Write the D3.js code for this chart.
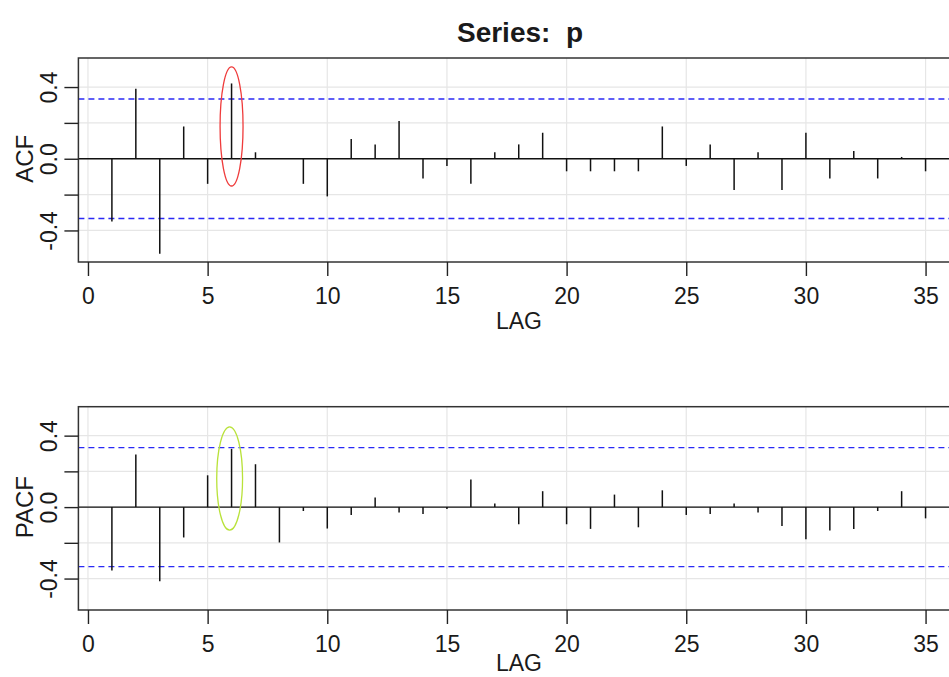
<!DOCTYPE html>
<html>
<head>
<meta charset="utf-8">
<script src="https://cdn.jsdelivr.net/npm/d3@7"></script>
<style>
  html, body { margin: 0; padding: 0; background: #fff; }
  svg { display: block; }
  text { font-family: "Liberation Sans", Arial, sans-serif; fill: #1a1a1a; }
</style>
</head>
<body>
<svg id="chart" width="949" height="677"></svg>
<script>
// ---- data ----
const lags = [1,2,3,4,5,6,7,8,9,10,11,12,13,14,15,16,17,18,19,20,21,22,23,24,25,26,27,28,29,30,31,32,33,34,35];
const acfValues = [-0.35, 0.39, -0.53, 0.18, -0.14, 0.42, 0.036, 0.0, -0.14, -0.21,
                   0.11, 0.08, 0.21, -0.11, -0.04, -0.14, 0.036, 0.08, 0.145, -0.07,
                   -0.07, -0.07, -0.07, 0.18, -0.04, 0.08, -0.175, 0.036, -0.175, 0.145,
                   -0.11, 0.043, -0.11, 0.01, -0.07];
const pacfValues = [-0.355, 0.295, -0.415, -0.17, 0.178, 0.326, 0.24, -0.198, -0.022, -0.12,
                    -0.044, 0.054, -0.03, -0.039, -0.011, 0.154, 0.02, -0.096, 0.089, -0.096,
                    -0.122, 0.07, -0.113, 0.094, -0.044, -0.039, 0.02, -0.03, -0.106, -0.18,
                    -0.131, -0.122, -0.022, 0.089, -0.063];
const confBound = 0.333;
const xTicks = [0, 5, 10, 15, 20, 25, 30, 35];
const yTicks = [-0.4, -0.2, 0.0, 0.2, 0.4];
const yTickLabels = ["-0.4", "", "0.0", "", "0.4"];
const titleText = "Series:  p";
const xLabel = "LAG";
const panelLabels = ["ACF", "PACF"];
// annotation ellipses: [lag center, value center, lag half-width, value half-height]
const ellipseTop = [6.0, 0.18, 0.48, 0.332];
const ellipseBottom = [5.92, 0.16, 0.54, 0.289];

// ---- layout ----
const svg = d3.select("#chart");
const x = d3.scaleLinear().domain([-0.4, 37.4]).range([78.4, 983]);
const panels = [
  { values: acfValues, label: panelLabels[0], top: 58, bottom: 262, labOff: 67, ellipse: ellipseTop, ecolor: "#ef3b3b" },
  { values: pacfValues, label: panelLabels[1], top: 406.7, bottom: 610, labOff: 61, ellipse: ellipseBottom, ecolor: "#b9e23a" }
];

svg.append("text")
  .attr("x", 520).attr("y", 42)
  .attr("text-anchor", "middle")
  .attr("font-size", 28).attr("font-weight", "bold")
  .style("white-space", "pre")
  .text(titleText);

panels.forEach(p => {
  const y = d3.scaleLinear().domain([-0.576, 0.562]).range([p.bottom, p.top]);
  const g = svg.append("g");
  const x0 = x.range()[0], x1 = x.range()[1];

  // grid
  g.selectAll(".hg").data(yTicks).join("line")
    .attr("x1", x0).attr("x2", x1)
    .attr("y1", d => y(d)).attr("y2", d => y(d))
    .attr("stroke", "#e6e6e6").attr("stroke-width", 1.2);
  g.selectAll(".vg").data(xTicks).join("line")
    .attr("x1", d => x(d)).attr("x2", d => x(d))
    .attr("y1", p.top).attr("y2", p.bottom)
    .attr("stroke", "#e6e6e6").attr("stroke-width", 1.2);

  // confidence bounds
  g.selectAll(".cb").data([confBound, -confBound]).join("line")
    .attr("x1", x0).attr("x2", x1)
    .attr("y1", d => y(d)).attr("y2", d => y(d))
    .attr("stroke", "#2a2af5").attr("stroke-width", 1.4)
    .attr("stroke-dasharray", "6,4");

  // zero line
  g.append("line")
    .attr("x1", x0).attr("x2", x1)
    .attr("y1", y(0)).attr("y2", y(0))
    .attr("stroke", "#111").attr("stroke-width", 1.3);

  // spikes
  g.selectAll(".sp").data(lags.map((l, i) => [l, p.values[i]])).join("line")
    .attr("x1", d => x(d[0])).attr("x2", d => x(d[0]))
    .attr("y1", y(0)).attr("y2", d => y(d[1]))
    .attr("stroke", "#111").attr("stroke-width", 1.5);

  // box
  g.append("rect")
    .attr("x", x0).attr("y", p.top)
    .attr("width", x1 - x0).attr("height", p.bottom - p.top)
    .attr("fill", "none").attr("stroke", "#333").attr("stroke-width", 1.5);

  // x axis
  const xa = g.append("g").attr("transform", `translate(0,${p.bottom})`)
    .call(d3.axisBottom(x).tickValues(xTicks).tickSize(14).tickPadding(0).tickFormat(d3.format("d")));
  xa.select(".domain").remove();
  xa.selectAll(".tick line").attr("stroke", "#222").attr("stroke-width", 1.4);
  xa.selectAll(".tick text").attr("font-size", 23).attr("fill", "#1a1a1a")
    .attr("font-family", "Liberation Sans, Arial, sans-serif")
    .attr("dy", null).attr("y", 42);

  g.append("text")
    .attr("x", 519).attr("y", p.bottom + p.labOff)
    .attr("text-anchor", "middle").attr("font-size", 23)
    .text(xLabel);

  // y axis
  const ya = g.append("g").attr("transform", `translate(${x0},0)`)
    .call(d3.axisLeft(y).tickValues(yTicks).tickSize(14).tickPadding(0)
      .tickFormat((d, i) => yTickLabels[i]));
  ya.select(".domain").remove();
  ya.selectAll(".tick line").attr("stroke", "#222").attr("stroke-width", 1.4);
  ya.selectAll(".tick text")
    .attr("font-size", 23).attr("fill", "#1a1a1a")
    .attr("font-family", "Liberation Sans, Arial, sans-serif")
    .attr("text-anchor", "middle")
    .attr("x", null).attr("dy", null)
    .attr("transform", "translate(-21,0) rotate(-90)");

  g.append("text")
    .attr("transform", `translate(33,${(y(0.4) + y(-0.4)) / 2}) rotate(-90)`)
    .attr("text-anchor", "middle").attr("font-size", 24)
    .text(p.label);

  // annotation ellipse
  const e = p.ellipse;
  g.append("ellipse")
    .attr("cx", x(e[0])).attr("cy", y(e[1]))
    .attr("rx", x(e[0] + e[2]) - x(e[0]))
    .attr("ry", y(e[1] - e[3]) - y(e[1]))
    .attr("fill", "none").attr("stroke", p.ecolor).attr("stroke-width", 1.3);
});
</script>
</body>
</html>
